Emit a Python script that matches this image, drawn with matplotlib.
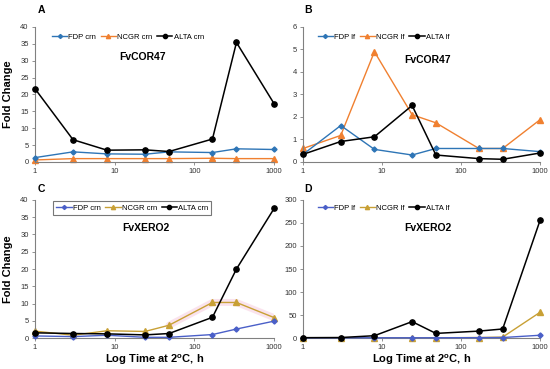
import matplotlib
matplotlib.use("Agg")
import matplotlib.pyplot as plt
from matplotlib.ticker import FixedLocator, NullLocator, FixedFormatter

plt.rcParams['font.family'] = ['Liberation Sans', 'DejaVu Sans']

hours = [1, 3, 8, 24, 48, 168, 336, 1000]
xticks = [1, 10, 100, 1000]
xticklabels = ["1", "10", "100", "1000"]

# Panel A: FvCOR47 crown
a_fdp = [1.3, 3.0, 2.4, 2.3, 3.0, 2.8, 3.9, 3.7]
a_ncgr = [0.6, 1.0, 1.0, 1.0, 1.0, 1.1, 1.0, 1.0]
a_alta = [21.7, 6.6, 3.5, 3.6, 3.1, 6.8, 35.4, 17.2]
# Panel B: FvCOR47 leaf
b_fdp = [0.34, 1.62, 0.56, 0.31, 0.6, 0.6, 0.6, 0.46]
b_ncgr = [0.6, 1.18, 4.9, 2.1, 1.74, 0.6, 0.6, 1.88]
b_alta = [0.34, 0.91, 1.12, 2.51, 0.31, 0.15, 0.12, 0.4]
# Panel C: FvXERO2 crown
c_fdp = [0.6, 0.4, 0.8, 0.2, 0.2, 1.0, 2.6, 4.9]
c_ncgr = [2.0, 0.8, 2.1, 1.9, 3.7, 10.3, 10.3, 5.9]
c_alta = [1.5, 1.3, 1.2, 0.9, 1.3, 6.0, 20.0, 37.6]
# Panel D: FvXERO2 leaf
d_fdp = [0.5, 0.5, 0.5, 0.5, 0.5, 0.8, 1.0, 6.0]
d_ncgr = [0.5, 0.5, 0.5, 0.5, 0.5, 1.0, 2.0, 56.0]
d_alta = [0.7, 1.0, 5.0, 35.6, 10.0, 15.0, 19.6, 256.0]

blue1, orange1 = '#2E75B6', '#F08030'
blue2, gold2 = '#4A5FC8', '#C8A035'

fig = plt.figure(figsize=(5.5, 3.69), dpi=100)

panels = [
    dict(pos=[0.0636, 0.561, 0.435, 0.366], data=(a_fdp, a_ncgr, a_alta),
         labels=("FDP crn", "NCGR crn", "ALTA crn"), colors=(blue1, orange1),
         ylim=(0, 40), yticks=[0, 5, 10, 15, 20, 25, 30, 35, 40], title="FvCOR47",
         letter="A", tpos=(0.26, 0.845), leg=(0.082, 0.928), frame=False,
         ylabel=True, xlabel=False),
    dict(pos=[0.551, 0.561, 0.431, 0.366], data=(b_fdp, b_ncgr, b_alta),
         labels=("FDP lf", "NCGR lf", "ALTA lf"), colors=(blue1, orange1),
         ylim=(0, 6), yticks=[0, 1, 2, 3, 4, 5, 6], title="FvCOR47",
         letter="B", tpos=(0.778, 0.838), leg=(0.565, 0.928), frame=False,
         ylabel=False, xlabel=False),
    dict(pos=[0.0636, 0.084, 0.435, 0.374], data=(c_fdp, c_ncgr, c_alta),
         labels=("FDP crn", "NCGR crn", "ALTA crn"), colors=(blue2, gold2),
         ylim=(0, 40), yticks=[0, 5, 10, 15, 20, 25, 30, 35, 40], title="FvXERO2",
         letter="C", tpos=(0.265, 0.382), leg=(0.09, 0.465), frame=True,
         ylabel=True, xlabel=True),
    dict(pos=[0.551, 0.084, 0.431, 0.374], data=(d_fdp, d_ncgr, d_alta),
         labels=("FDP lf", "NCGR lf", "ALTA lf"), colors=(blue2, gold2),
         ylim=(0, 300), yticks=[0, 50, 100, 150, 200, 250, 300], title="FvXERO2",
         letter="D", tpos=(0.778, 0.382), leg=(0.565, 0.465), frame=False,
         ylabel=False, xlabel=True),
]

for p in panels:
    ax = fig.add_axes(p['pos'])
    fdp, ncgr, alta = p['data']
    cf, cn = p['colors']
    if p['letter'] == 'C':
        ax.plot(hours[4:], ncgr[4:], color='#F6C8DC', lw=5, alpha=0.5,
                solid_capstyle='round', zorder=1)
    ax.plot(hours, fdp, color=cf, marker='D', ms=2.6, lw=1.0,
            label=p['labels'][0], zorder=3, clip_on=False)
    ax.plot(hours, ncgr, color=cn, marker='^', ms=3.8, lw=1.0,
            label=p['labels'][1], zorder=2, clip_on=False)
    ax.plot(hours, alta, color='black', marker='o', ms=3.8, lw=1.1,
            label=p['labels'][2], zorder=4, clip_on=False)
    ax.set_xscale('log')
    ax.set_xlim(1, 1000)
    ax.set_ylim(*p['ylim'])
    ax.xaxis.set_major_locator(FixedLocator(xticks))
    ax.xaxis.set_major_formatter(FixedFormatter(xticklabels))
    ax.xaxis.set_minor_locator(NullLocator())
    ax.set_yticks(p['yticks'])
    for s in ('top', 'right'):
        ax.spines[s].set_visible(False)
    for s in ('left', 'bottom'):
        ax.spines[s].set_color('#808080')
        ax.spines[s].set_linewidth(0.8)
    ax.tick_params(axis='both', labelsize=5.5, colors='#808080', labelcolor='#333333',
                   length=2.5, width=0.6, pad=2)
    ax.text(p['tpos'][0], p['tpos'][1], p['title'], transform=fig.transFigure,
            ha='center', va='center', fontsize=7.5, fontweight='bold')
    fig.text(p['pos'][0] + 0.005 if p['letter'] in 'AC' else p['pos'][0] + 0.003,
             p['pos'][1] + p['pos'][3] + 0.045 if p['letter'] in 'AB' else p['pos'][1] + p['pos'][3] + 0.03,
             p['letter'], fontsize=7.5, fontweight='bold', ha='left', va='center')
    leg = ax.legend(loc='upper left', bbox_to_anchor=p['leg'], bbox_transform=fig.transFigure,
                    ncol=3, fontsize=5.5, frameon=p['frame'], handlelength=2.0,
                    handletextpad=0.15, columnspacing=0.6, borderpad=0.4,
                    fancybox=False, edgecolor='#555555', markerscale=0.8)
    if p['frame']:
        leg.get_frame().set_linewidth(0.8)
    if p['ylabel']:
        ax.set_ylabel('Fold Change', fontsize=8, fontweight='bold', labelpad=5)
    if p['xlabel']:
        ax.set_xlabel('Log Time at 2$^{\\mathregular{o}}$C, h', fontsize=8,
                      fontweight='bold', labelpad=1)

fig.savefig('out.png', dpi=100)
